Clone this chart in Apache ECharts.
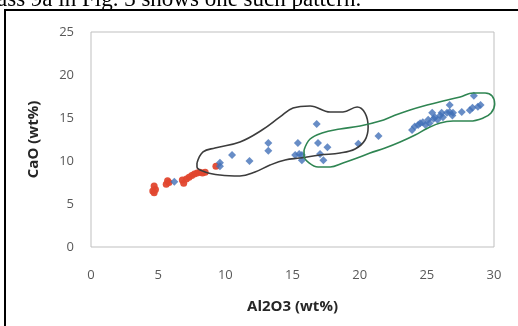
<!DOCTYPE html>
<html><head><meta charset="utf-8">
<script src="https://cdn.jsdelivr.net/npm/echarts@6/dist/echarts.min.js"></script>
<style>html,body{margin:0;padding:0;background:#fff}#c{width:518px;height:326px}</style>
</head><body><div id="c"></div>
<script>
const xTicks = [0, 5, 10, 15, 20, 25, 30];
const yTicks = [0, 5, 10, 15, 20, 25];
const redPoints = [[4.6,6.5],[4.7,7.1],[4.8,6.7],[4.7,6.3],[5.6,7.3],[5.7,7.7],[5.8,7.5],[6.8,7.8],[6.9,7.4],[7.1,7.9],[7.3,8.1],[7.5,8.3],[7.7,8.5],[7.9,8.6],[8.1,8.7],[8.3,8.6],[8.5,8.7],[9.3,9.4]];
const bluePoints = [[6.2,7.6],[9.6,9.8],[9.6,9.4],[10.5,10.7],[11.8,10.0],[13.2,12.1],[13.2,11.2],[15.4,12.1],[15.2,10.7],[15.5,10.8],[15.7,10.7],[15.7,10.1],[16.8,14.3],[16.9,12.1],[17.6,11.6],[17.05,10.8],[17.3,10.1],[19.9,12.0],[21.4,12.9],
 [23.9,13.6],[24.1,14.0],[24.35,14.2],[24.5,14.4],[24.7,14.5],[24.9,14.2],[25.1,14.8],[25.2,14.4],[25.4,15.6],[25.5,14.9],[25.6,15.1],[25.8,14.8],[26.0,15.3],[26.1,15.6],[26.2,15.1],[26.5,15.6],[26.7,16.5],[26.7,15.7],[26.9,15.3],[26.95,15.6],[27.6,15.7],[28.2,15.9],[28.4,16.2],[28.5,17.6],[28.8,16.3],[29.0,16.5]];
const blackOutline = [[7.89,9.77],[8.34,11.05],[9.23,11.51],[11.09,12.21],[12.73,13.6],[14.07,15.12],[15.04,16.16],[16.31,16.4],[17.8,15.7],[18.76,15.7],[19.81,16.28],[20.4,15.58],[20.63,13.95],[20.4,12.44],[19.66,11.4],[18.54,10.93],[17.05,10.7],[15.56,10.35],[14.45,10.12],[13.33,9.53],[12.21,8.72],[11.09,8.26],[9.6,8.37],[8.49,8.72],[7.89,9.3],[7.89,9.77]];
const greenOutline = [[15.86,11.28],[16.31,12.56],[17.2,13.26],[18.54,13.72],[20.03,14.07],[21.52,14.65],[22.49,15.23],[23.75,15.93],[25.02,16.51],[26.21,16.98],[27.48,17.44],[28.44,17.91],[29.34,17.91],[29.86,17.56],[30.05,16.63],[29.78,15.58],[29.19,15.0],[28.22,14.65],[26.95,14.65],[25.99,14.42],[25.09,13.84],[24.13,13.02],[23.01,12.21],[21.89,11.51],[20.77,10.93],[19.81,10.35],[18.76,9.77],[17.8,9.3],[16.9,9.3],[16.23,9.77],[15.86,10.58],[15.86,11.28]];
const xTitle = 'Al2O3 (wt%)';
const yTitle = 'CaO (wt%)';
const pageText = 'ass 9a in Fig. 3 shows one such pattern.';

const chart = echarts.init(document.getElementById('c'), null, {renderer:'canvas'});
const lbl = {color:'#595959', fontSize:13, fontFamily:'Open Sans'};
chart.setOption({
  animation:false,
  grid:{left:91, right:24, top:32, bottom:79, show:true, borderColor:'#bfbfbf', borderWidth:1},
  xAxis:{type:'value', min:xTicks[0], max:xTicks[xTicks.length-1], interval:5,
    axisLine:{show:false}, axisTick:{show:false}, splitLine:{show:false},
    axisLabel:Object.assign({margin:22}, lbl),
    name:xTitle, nameLocation:'middle', nameGap:52,
    nameTextStyle:{color:'#262626', fontSize:15, fontWeight:'bold', fontFamily:'Open Sans'}},
  yAxis:{type:'value', min:yTicks[0], max:yTicks[yTicks.length-1], interval:5,
    axisLine:{show:false}, axisTick:{show:false}, splitLine:{show:false},
    axisLabel:Object.assign({margin:17}, lbl),
    name:yTitle, nameLocation:'middle', nameGap:50,
    nameTextStyle:{color:'#262626', fontSize:15, fontWeight:'bold', fontFamily:'Open Sans'}},
  graphic:[
    {type:'rect', shape:{x:5, y:10, width:530, height:340}, style:{fill:null, stroke:'#000', lineWidth:2}, silent:true},
    {type:'text', x:-3, y:11, style:{text:pageText, font:'23px "Liberation Serif"', fill:'#000', verticalAlign:'bottom'}}
  ],
  series:[
    {type:'scatter', data:redPoints, symbol:'circle', symbolSize:7, itemStyle:{color:'#e2472f', opacity:0.95}},
    {type:'scatter', data:bluePoints, symbol:'diamond', symbolSize:8, itemStyle:{color:'#4270b8'}},
    {type:'line', data:blackOutline, smooth:0.4, symbol:'none', clip:false, lineStyle:{color:'#3c3c3c', width:1.6}},
    {type:'line', data:greenOutline, smooth:0.4, symbol:'none', clip:false, lineStyle:{color:'#2f8552', width:1.6}}
  ]
});
</script></body></html>
